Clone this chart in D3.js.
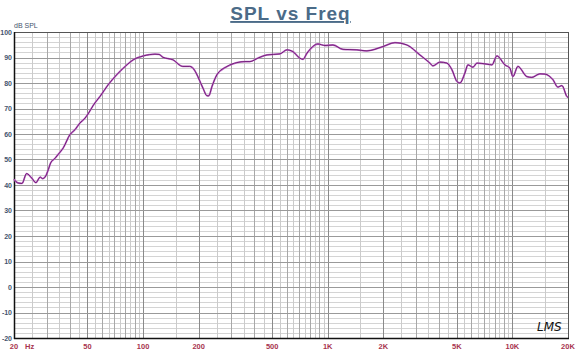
<!DOCTYPE html>
<html lang="en">
<head>
  <meta charset="UTF-8" />
  <title>SPL vs Freq</title>
  <script src="https://d3js.org/d3.v7.min.js"></script>
  <style>
    html, body {
      margin: 0;
      padding: 0;
      background: #fff;
    }
    svg { display: block; }
  </style>
</head>
<body>
  <svg id="chart" width="581" height="350"></svg>

  <script>
    // ---------------------------------------------------------
    // Data
    // ---------------------------------------------------------
    const freqHz = [
      20, 21, 22.1, 23.4, 24.9, 26.3, 27.7, 28.6, 29.7, 30.7,
      31.6, 33.3, 34.7, 37, 40.2, 42.8, 45.5, 48.5, 50.3, 54,
      58.4, 65, 71.9, 80, 88.5, 100.2, 108, 116, 122, 128,
      145, 164, 179, 190, 198, 211, 222, 227, 236, 251,
      285, 322, 356, 379, 420, 469, 551, 601, 648, 707,
      734, 772, 885, 966, 1067, 1209, 1439, 1630, 1990, 2312,
      2684, 3156, 3576, 3711, 4050, 4420, 4704, 5006, 5196, 5530,
      5742, 6111, 6424, 7276, 7746, 8242, 9108, 9692, 10060, 10710,
      11980, 12750, 14090, 15000, 16570, 17640, 18540, 19730, 20000
    ];
    const splDb = [
      42.2, 40.8, 40.6, 44.5, 42.8, 40.9, 43.1, 42.5, 43.5, 46.1,
      48.7, 50.4, 52, 54.6, 59.8, 61.7, 64.3, 66.2, 67.8, 71.5,
      74.7, 79.5, 83.2, 86.5, 89.1, 90.6, 91.1, 91.3, 91.2, 90.1,
      89.1, 86.5, 86.5, 85, 82.5, 78, 75, 75, 78.6, 83.2,
      86.5, 88, 88.4, 88.4, 89.8, 91, 91.4, 93, 92.3, 89.7,
      89.3, 91.7, 95.3, 94.7, 94.9, 93.2, 93, 92.6, 94.3, 95.8,
      94.9, 91, 87.8, 86.7, 88.2, 87.8, 85.2, 80.6, 80, 83.9,
      87.1, 86.2, 87.8, 87.4, 87.1, 90.6, 87.1, 85.8, 82.5, 86.5,
      82.5, 82.2, 83.6, 83.5, 81.3, 78.4, 79, 74.7, 74.3
    ];

    const xTickValues = [20, 50, 100, 200, 500, 1000, 2000, 5000, 10000, 20000];
    const xTickLabels = ["20", "50", "100", "200", "500", "1K", "2K", "5K", "10K", "20K"];
    const yTickValues = [100, 90, 80, 70, 60, 50, 40, 30, 20, 10, 0, -10, -20];

    // ---------------------------------------------------------
    // Layout
    // ---------------------------------------------------------
    const svg = d3.select("#chart");
    const plotL = 14, plotR = 568, plotT = 32, plotB = 338;

    const x = d3.scaleLog().domain([20, 20000]).range([plotL, plotR]);
    const y = d3.scaleLinear().domain([-20, 100]).range([plotB, plotT]);

    // Grid frequencies: every half step of each decade (20, 25, 30 ... 95, 100 ...)
    const gridFreqs = [];
    [10, 100, 1000, 10000].forEach(dec => {
      for (let k = 1; k < 10; k += 0.5) {
        const f = k * dec;
        if (f > 20 && f < 20000) gridFreqs.push({ f, whole: k % 1 === 0 });
      }
    });

    const grid = svg.append("g").attr("shape-rendering", "crispEdges");

    // minor horizontal lines every 2 dB
    grid.selectAll("line.hmin")
      .data(d3.range(-20, 101, 2).filter(v => v % 10 !== 0))
      .join("line")
      .attr("x1", plotL).attr("x2", plotR)
      .attr("y1", d => Math.round(y(d)) + 0.5).attr("y2", d => Math.round(y(d)) + 0.5)
      .attr("stroke", "#d4d4d4");

    // vertical lines
    grid.selectAll("line.v")
      .data(gridFreqs)
      .join("line")
      .attr("x1", d => Math.round(x(d.f)) + 0.5).attr("x2", d => Math.round(x(d.f)) + 0.5)
      .attr("y1", plotT).attr("y2", plotB)
      .attr("stroke", d => xTickValues.includes(d.f) ? "#8a8a8a" : (d.whole ? "#a8a8a8" : "#cbcbcb"));

    // major horizontal lines every 10 dB
    grid.selectAll("line.hmaj")
      .data(yTickValues)
      .join("line")
      .attr("x1", plotL).attr("x2", plotR)
      .attr("y1", d => Math.round(y(d)) + 0.5).attr("y2", d => Math.round(y(d)) + 0.5)
      .attr("stroke", "#9a9a9a");

    // frame
    svg.append("rect")
      .attr("x", plotL + 0.5).attr("y", plotT + 0.5)
      .attr("width", plotR - plotL).attr("height", plotB - plotT)
      .attr("fill", "none").attr("stroke", "#555");
    svg.append("line")
      .attr("x1", plotL + 0.5).attr("x2", plotL + 0.5).attr("y1", plotT).attr("y2", plotB + 1)
      .attr("stroke", "#111").attr("stroke-width", 1.5);
    svg.append("line")
      .attr("x1", plotL).attr("x2", plotR + 1).attr("y1", plotB + 0.5).attr("y2", plotB + 0.5)
      .attr("stroke", "#111").attr("stroke-width", 1.5);

    // ---------------------------------------------------------
    // Response curve
    // ---------------------------------------------------------
    const pts = freqHz.map((f, i) => [f, splDb[i]]);
    const line = d3.line()
      .x(d => x(d[0]))
      .y(d => y(d[1]))
      .curve(d3.curveMonotoneX);

    svg.append("path")
      .attr("d", line(pts))
      .attr("fill", "none")
      .attr("stroke", "#c070c8")
      .attr("stroke-width", 1.8)
      .attr("stroke-linejoin", "round");
    svg.append("path")
      .attr("d", line(pts))
      .attr("fill", "none")
      .attr("stroke", "#6a1670")
      .attr("stroke-width", 0.9)
      .attr("stroke-linejoin", "round");

    // ---------------------------------------------------------
    // Axis labels
    // ---------------------------------------------------------
    svg.selectAll("text.ylab")
      .data(yTickValues)
      .join("text")
      .attr("x", 12)
      .attr("y", d => y(d) + 2.6)
      .attr("text-anchor", "end")
      .attr("font-family", "Liberation Sans, Arial, sans-serif")
      .attr("font-size", 7)
      .attr("font-weight", "bold")
      .attr("fill", "#45546e")
      .text(d => d);

    svg.selectAll("text.xlab")
      .data(xTickValues)
      .join("text")
      .attr("x", d => x(d))
      .attr("y", 349)
      .attr("text-anchor", "middle")
      .attr("font-family", "Liberation Sans, Arial, sans-serif")
      .attr("font-size", 7.5)
      .attr("font-weight", "bold")
      .attr("fill", "#a8344e")
      .text((d, i) => xTickLabels[i]);

    svg.append("text")
      .attr("x", 25).attr("y", 349)
      .attr("font-family", "Liberation Sans, Arial, sans-serif")
      .attr("font-size", 7.5)
      .attr("font-weight", "bold")
      .attr("fill", "#a8344e")
      .text("Hz");

    svg.append("text")
      .attr("x", 14).attr("y", 28)
      .attr("font-family", "Liberation Sans, Arial, sans-serif")
      .attr("font-size", 7)
      .attr("fill", "#45546e")
      .text("dB SPL");

    // title
    svg.append("text")
      .attr("x", 290.5).attr("y", 20)
      .attr("text-anchor", "middle")
      .attr("font-family", "Liberation Sans, Arial, sans-serif")
      .attr("font-size", 19)
      .attr("font-weight", "bold")
      .attr("letter-spacing", 1)
      .attr("fill", "#4b6b88")
      .attr("text-decoration", "underline")
      .text("SPL vs Freq");

    // LMS mark
    svg.append("text")
      .attr("x", 537).attr("y", 331)
      .attr("font-family", "DejaVu Sans, sans-serif")
      .attr("font-style", "italic")
      .attr("font-size", 12)
      .attr("fill", "#111")
      .text("LMS");
  </script>
</body>
</html>
